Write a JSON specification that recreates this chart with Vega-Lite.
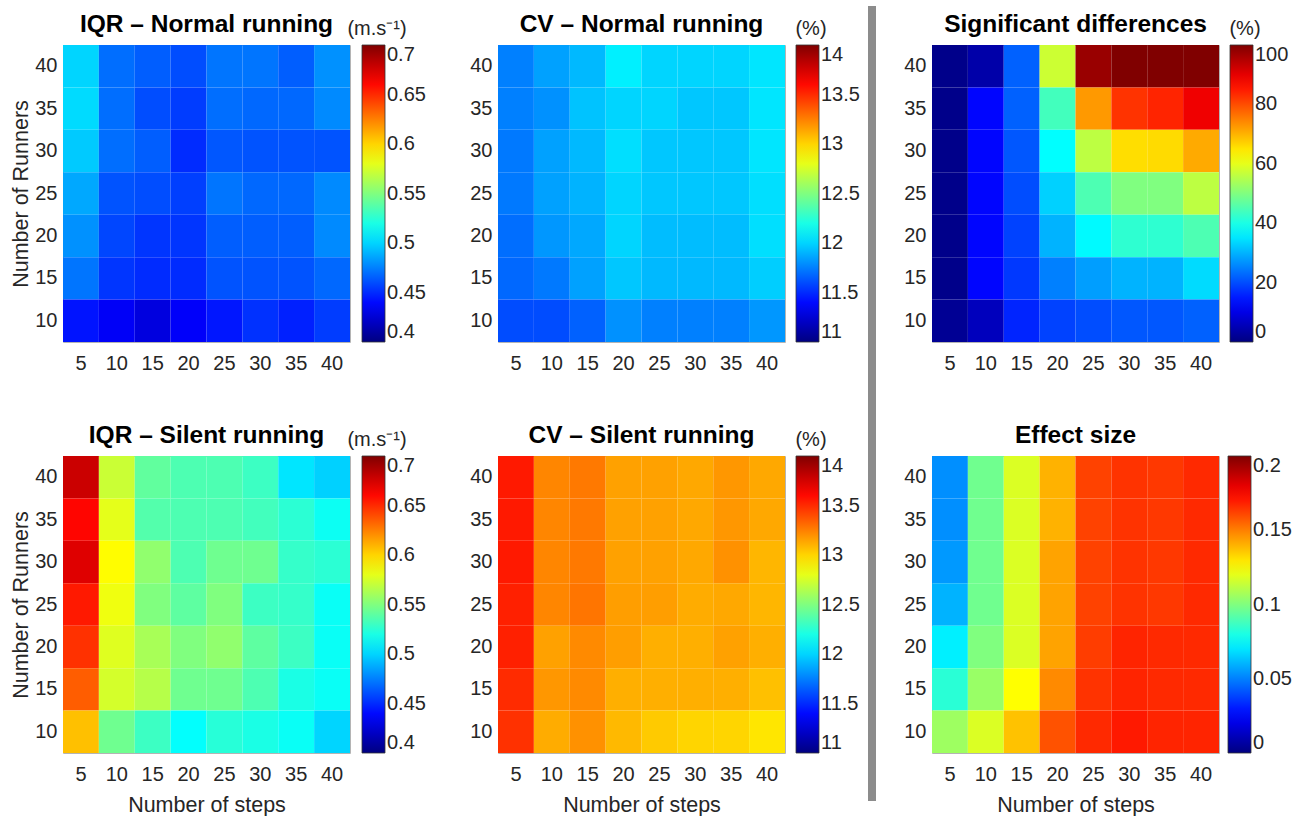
{
  "$schema": "https://vega.github.io/schema/vega-lite/v6.json",
  "padding": {"left": 10, "top": 5, "right": 5, "bottom": 0},
  "background": "white",
  "datasets": {
    "iqrN": [
      {"s":5,"r":40,"v":0.500},{"s":10,"r":40,"v":0.470},{"s":15,"r":40,"v":0.465},{"s":20,"r":40,"v":0.460},{"s":25,"r":40,"v":0.472},{"s":30,"r":40,"v":0.472},{"s":35,"r":40,"v":0.465},{"s":40,"r":40,"v":0.480},
      {"s":5,"r":35,"v":0.502},{"s":10,"r":35,"v":0.470},{"s":15,"r":35,"v":0.460},{"s":20,"r":35,"v":0.455},{"s":25,"r":35,"v":0.470},{"s":30,"r":35,"v":0.468},{"s":35,"r":35,"v":0.468},{"s":40,"r":35,"v":0.478},
      {"s":5,"r":30,"v":0.497},{"s":10,"r":30,"v":0.470},{"s":15,"r":30,"v":0.465},{"s":20,"r":30,"v":0.450},{"s":25,"r":30,"v":0.463},{"s":30,"r":30,"v":0.462},{"s":35,"r":30,"v":0.462},{"s":40,"r":30,"v":0.462},
      {"s":5,"r":25,"v":0.487},{"s":10,"r":25,"v":0.462},{"s":15,"r":25,"v":0.460},{"s":20,"r":25,"v":0.456},{"s":25,"r":25,"v":0.472},{"s":30,"r":25,"v":0.468},{"s":35,"r":25,"v":0.468},{"s":40,"r":25,"v":0.478},
      {"s":5,"r":20,"v":0.480},{"s":10,"r":20,"v":0.458},{"s":15,"r":20,"v":0.453},{"s":20,"r":20,"v":0.453},{"s":25,"r":20,"v":0.465},{"s":30,"r":20,"v":0.465},{"s":35,"r":20,"v":0.465},{"s":40,"r":20,"v":0.478},
      {"s":5,"r":15,"v":0.472},{"s":10,"r":15,"v":0.453},{"s":15,"r":15,"v":0.450},{"s":20,"r":15,"v":0.450},{"s":25,"r":15,"v":0.462},{"s":30,"r":15,"v":0.462},{"s":35,"r":15,"v":0.462},{"s":40,"r":15,"v":0.468},
      {"s":5,"r":10,"v":0.443},{"s":10,"r":10,"v":0.435},{"s":15,"r":10,"v":0.428},{"s":20,"r":10,"v":0.436},{"s":25,"r":10,"v":0.444},{"s":30,"r":10,"v":0.452},{"s":35,"r":10,"v":0.447},{"s":40,"r":10,"v":0.455}
    ],
    "cvN": [
      {"s":5,"r":40,"v":11.75},{"s":10,"r":40,"v":11.85},{"s":15,"r":40,"v":11.92},{"s":20,"r":40,"v":12.08},{"s":25,"r":40,"v":12.00},{"s":30,"r":40,"v":12.00},{"s":35,"r":40,"v":12.00},{"s":40,"r":40,"v":12.05},
      {"s":5,"r":35,"v":11.75},{"s":10,"r":35,"v":11.80},{"s":15,"r":35,"v":11.95},{"s":20,"r":35,"v":12.00},{"s":25,"r":35,"v":12.00},{"s":30,"r":35,"v":11.96},{"s":35,"r":35,"v":11.96},{"s":40,"r":35,"v":12.05},
      {"s":5,"r":30,"v":11.73},{"s":10,"r":30,"v":11.85},{"s":15,"r":30,"v":11.92},{"s":20,"r":30,"v":12.03},{"s":25,"r":30,"v":11.96},{"s":30,"r":30,"v":11.96},{"s":35,"r":30,"v":11.96},{"s":40,"r":30,"v":12.05},
      {"s":5,"r":25,"v":11.73},{"s":10,"r":25,"v":11.85},{"s":15,"r":25,"v":11.90},{"s":20,"r":25,"v":12.00},{"s":25,"r":25,"v":11.96},{"s":30,"r":25,"v":11.96},{"s":35,"r":25,"v":11.96},{"s":40,"r":25,"v":12.03},
      {"s":5,"r":20,"v":11.70},{"s":10,"r":20,"v":11.82},{"s":15,"r":20,"v":11.87},{"s":20,"r":20,"v":12.00},{"s":25,"r":20,"v":11.93},{"s":30,"r":20,"v":11.93},{"s":35,"r":20,"v":11.93},{"s":40,"r":20,"v":12.03},
      {"s":5,"r":15,"v":11.68},{"s":10,"r":15,"v":11.73},{"s":15,"r":15,"v":11.85},{"s":20,"r":15,"v":11.96},{"s":25,"r":15,"v":11.92},{"s":30,"r":15,"v":11.92},{"s":35,"r":15,"v":11.92},{"s":40,"r":15,"v":11.98},
      {"s":5,"r":10,"v":11.60},{"s":10,"r":10,"v":11.60},{"s":15,"r":10,"v":11.66},{"s":20,"r":10,"v":11.80},{"s":25,"r":10,"v":11.75},{"s":30,"r":10,"v":11.75},{"s":35,"r":10,"v":11.75},{"s":40,"r":10,"v":11.82}
    ],
    "sig": [
      {"s":5,"r":40,"v":1},{"s":10,"r":40,"v":4},{"s":15,"r":40,"v":22},{"s":20,"r":40,"v":57.5},{"s":25,"r":40,"v":97.5},{"s":30,"r":40,"v":100},{"s":35,"r":40,"v":100},{"s":40,"r":40,"v":100},
      {"s":5,"r":35,"v":1},{"s":10,"r":35,"v":13},{"s":15,"r":35,"v":22},{"s":20,"r":35,"v":44},{"s":25,"r":35,"v":72.5},{"s":30,"r":35,"v":82.5},{"s":35,"r":35,"v":84},{"s":40,"r":35,"v":89},
      {"s":5,"r":30,"v":1},{"s":10,"r":30,"v":13},{"s":15,"r":30,"v":21},{"s":20,"r":30,"v":37.5},{"s":25,"r":30,"v":56},{"s":30,"r":30,"v":65.7},{"s":35,"r":30,"v":66},{"s":40,"r":30,"v":70.8},
      {"s":5,"r":25,"v":1},{"s":10,"r":25,"v":13},{"s":15,"r":25,"v":20},{"s":20,"r":25,"v":33},{"s":25,"r":25,"v":45},{"s":30,"r":25,"v":50},{"s":35,"r":25,"v":50},{"s":40,"r":25,"v":56},
      {"s":5,"r":20,"v":1},{"s":10,"r":20,"v":13},{"s":15,"r":20,"v":19},{"s":20,"r":20,"v":30},{"s":25,"r":20,"v":37},{"s":30,"r":20,"v":42},{"s":35,"r":20,"v":42},{"s":40,"r":20,"v":45},
      {"s":5,"r":15,"v":1},{"s":10,"r":15,"v":13},{"s":15,"r":15,"v":18},{"s":20,"r":15,"v":25},{"s":25,"r":15,"v":28},{"s":30,"r":15,"v":30},{"s":35,"r":15,"v":30},{"s":40,"r":15,"v":34},
      {"s":5,"r":10,"v":2},{"s":10,"r":10,"v":6},{"s":15,"r":10,"v":16},{"s":20,"r":10,"v":19},{"s":25,"r":10,"v":20},{"s":30,"r":10,"v":21},{"s":35,"r":10,"v":21},{"s":40,"r":10,"v":22}
    ],
    "iqrS": [
      {"s":5,"r":40,"v":0.678},{"s":10,"r":40,"v":0.572},{"s":15,"r":40,"v":0.541},{"s":20,"r":40,"v":0.535},{"s":25,"r":40,"v":0.535},{"s":30,"r":40,"v":0.530},{"s":35,"r":40,"v":0.505},{"s":40,"r":40,"v":0.499},
      {"s":5,"r":35,"v":0.661},{"s":10,"r":35,"v":0.580},{"s":15,"r":35,"v":0.537},{"s":20,"r":35,"v":0.535},{"s":25,"r":35,"v":0.535},{"s":30,"r":35,"v":0.532},{"s":35,"r":35,"v":0.525},{"s":40,"r":35,"v":0.516},
      {"s":5,"r":30,"v":0.672},{"s":10,"r":30,"v":0.588},{"s":15,"r":30,"v":0.555},{"s":20,"r":30,"v":0.535},{"s":25,"r":30,"v":0.545},{"s":30,"r":30,"v":0.545},{"s":35,"r":30,"v":0.528},{"s":40,"r":30,"v":0.525},
      {"s":5,"r":25,"v":0.655},{"s":10,"r":25,"v":0.583},{"s":15,"r":25,"v":0.550},{"s":20,"r":25,"v":0.540},{"s":25,"r":25,"v":0.550},{"s":30,"r":25,"v":0.530},{"s":35,"r":25,"v":0.528},{"s":40,"r":25,"v":0.515},
      {"s":5,"r":20,"v":0.648},{"s":10,"r":20,"v":0.578},{"s":15,"r":20,"v":0.562},{"s":20,"r":20,"v":0.550},{"s":25,"r":20,"v":0.555},{"s":30,"r":20,"v":0.540},{"s":35,"r":20,"v":0.530},{"s":40,"r":20,"v":0.515},
      {"s":5,"r":15,"v":0.635},{"s":10,"r":15,"v":0.575},{"s":15,"r":15,"v":0.566},{"s":20,"r":15,"v":0.545},{"s":25,"r":15,"v":0.545},{"s":30,"r":15,"v":0.535},{"s":35,"r":15,"v":0.520},{"s":40,"r":15,"v":0.515},
      {"s":5,"r":10,"v":0.606},{"s":10,"r":10,"v":0.545},{"s":15,"r":10,"v":0.530},{"s":20,"r":10,"v":0.513},{"s":25,"r":10,"v":0.524},{"s":30,"r":10,"v":0.520},{"s":35,"r":10,"v":0.515},{"s":40,"r":10,"v":0.500}
    ],
    "cvS": [
      {"s":5,"r":40,"v":13.55},{"s":10,"r":40,"v":13.23},{"s":15,"r":40,"v":13.27},{"s":20,"r":40,"v":13.15},{"s":25,"r":40,"v":13.15},{"s":30,"r":40,"v":13.13},{"s":35,"r":40,"v":13.18},{"s":40,"r":40,"v":13.13},
      {"s":5,"r":35,"v":13.55},{"s":10,"r":35,"v":13.23},{"s":15,"r":35,"v":13.27},{"s":20,"r":35,"v":13.15},{"s":25,"r":35,"v":13.15},{"s":30,"r":35,"v":13.13},{"s":35,"r":35,"v":13.18},{"s":40,"r":35,"v":13.13},
      {"s":5,"r":30,"v":13.55},{"s":10,"r":30,"v":13.23},{"s":15,"r":30,"v":13.27},{"s":20,"r":30,"v":13.15},{"s":25,"r":30,"v":13.15},{"s":30,"r":30,"v":13.13},{"s":35,"r":30,"v":13.20},{"s":40,"r":30,"v":13.09},
      {"s":5,"r":25,"v":13.53},{"s":10,"r":25,"v":13.23},{"s":15,"r":25,"v":13.28},{"s":20,"r":25,"v":13.16},{"s":25,"r":25,"v":13.16},{"s":30,"r":25,"v":13.12},{"s":35,"r":25,"v":13.13},{"s":40,"r":25,"v":13.09},
      {"s":5,"r":20,"v":13.53},{"s":10,"r":20,"v":13.15},{"s":15,"r":20,"v":13.22},{"s":20,"r":20,"v":13.16},{"s":25,"r":20,"v":13.11},{"s":30,"r":20,"v":13.11},{"s":35,"r":20,"v":13.15},{"s":40,"r":20,"v":13.11},
      {"s":5,"r":15,"v":13.50},{"s":10,"r":15,"v":13.18},{"s":15,"r":15,"v":13.22},{"s":20,"r":15,"v":13.11},{"s":25,"r":15,"v":13.11},{"s":30,"r":15,"v":13.11},{"s":35,"r":15,"v":13.11},{"s":40,"r":15,"v":13.06},
      {"s":5,"r":10,"v":13.48},{"s":10,"r":10,"v":13.12},{"s":15,"r":10,"v":13.20},{"s":20,"r":10,"v":13.08},{"s":25,"r":10,"v":13.03},{"s":30,"r":10,"v":13.00},{"s":35,"r":10,"v":13.00},{"s":40,"r":10,"v":12.95}
    ],
    "eff": [
      {"s":5,"r":40,"v":0.053},{"s":10,"r":40,"v":0.097},{"s":15,"r":40,"v":0.118},{"s":20,"r":40,"v":0.140},{"s":25,"r":40,"v":0.162},{"s":30,"r":40,"v":0.165},{"s":35,"r":40,"v":0.164},{"s":40,"r":40,"v":0.167},
      {"s":5,"r":35,"v":0.053},{"s":10,"r":35,"v":0.097},{"s":15,"r":35,"v":0.118},{"s":20,"r":35,"v":0.140},{"s":25,"r":35,"v":0.162},{"s":30,"r":35,"v":0.165},{"s":35,"r":35,"v":0.164},{"s":40,"r":35,"v":0.167},
      {"s":5,"r":30,"v":0.055},{"s":10,"r":30,"v":0.097},{"s":15,"r":30,"v":0.118},{"s":20,"r":30,"v":0.143},{"s":25,"r":30,"v":0.162},{"s":30,"r":30,"v":0.165},{"s":35,"r":30,"v":0.164},{"s":40,"r":30,"v":0.167},
      {"s":5,"r":25,"v":0.060},{"s":10,"r":25,"v":0.097},{"s":15,"r":25,"v":0.118},{"s":20,"r":25,"v":0.143},{"s":25,"r":25,"v":0.162},{"s":30,"r":25,"v":0.165},{"s":35,"r":25,"v":0.164},{"s":40,"r":25,"v":0.167},
      {"s":5,"r":20,"v":0.072},{"s":10,"r":20,"v":0.100},{"s":15,"r":20,"v":0.118},{"s":20,"r":20,"v":0.143},{"s":25,"r":20,"v":0.163},{"s":30,"r":20,"v":0.168},{"s":35,"r":20,"v":0.167},{"s":40,"r":20,"v":0.167},
      {"s":5,"r":15,"v":0.083},{"s":10,"r":15,"v":0.105},{"s":15,"r":15,"v":0.125},{"s":20,"r":15,"v":0.148},{"s":25,"r":15,"v":0.165},{"s":30,"r":15,"v":0.168},{"s":35,"r":15,"v":0.167},{"s":40,"r":15,"v":0.167},
      {"s":5,"r":10,"v":0.106},{"s":10,"r":10,"v":0.118},{"s":15,"r":10,"v":0.137},{"s":20,"r":10,"v":0.159},{"s":25,"r":10,"v":0.167},{"s":30,"r":10,"v":0.170},{"s":35,"r":10,"v":0.168},{"s":40,"r":10,"v":0.168}
    ],
    "sep": [{"k": 1}]
  },
  "hconcat": [
    {
      "hconcat": [
        {
          "vconcat": [
            {
              "width": 287, "height": 297,
              "data": {"name": "iqrN"},
              "title": {"text": "IQR – Normal running"},
              "mark": "rect",
              "encoding": {
                "x": {"field": "s", "type": "ordinal", "axis": {"title": null}},
                "y": {"field": "r", "type": "ordinal", "sort": "descending", "axis": {"title": "Number of Runners"}},
                "color": {"field": "v", "type": "quantitative",
                  "scale": {"domain": [0.4, 0.4375, 0.5125, 0.5875, 0.6625, 0.7], "range": ["#000080", "#0000ff", "#00ffff", "#ffff00", "#ff0000", "#800000"], "interpolate": "rgb", "clamp": true},
                  "legend": {"title": "\u2800\u2800(m.s⁻¹)", "legendX": 254, "format": ".3~g", "values": [0.4, 0.45, 0.5, 0.55, 0.6, 0.65, 0.7]}}
              }
            },
            {
              "width": 287, "height": 297,
              "data": {"name": "iqrS"},
              "title": {"text": "IQR – Silent running"},
              "mark": "rect",
              "encoding": {
                "x": {"field": "s", "type": "ordinal", "axis": {"title": "Number of steps"}},
                "y": {"field": "r", "type": "ordinal", "sort": "descending", "axis": {"title": "Number of Runners"}},
                "color": {"field": "v", "type": "quantitative",
                  "scale": {"domain": [0.4, 0.4375, 0.5125, 0.5875, 0.6625, 0.7], "range": ["#000080", "#0000ff", "#00ffff", "#ffff00", "#ff0000", "#800000"], "interpolate": "rgb", "clamp": true},
                  "legend": {"title": "\u2800\u2800(m.s⁻¹)", "legendX": 254, "format": ".3~g", "values": [0.4, 0.45, 0.5, 0.55, 0.6, 0.65, 0.7]}}
              }
            }
          ],
          "spacing": 48,
          "resolve": {"scale": {"color": "independent"}, "legend": {"color": "independent"}}
        },
        {
          "vconcat": [
            {
              "width": 287, "height": 297,
              "data": {"name": "cvN"},
              "title": {"text": "CV – Normal running"},
              "mark": "rect",
              "encoding": {
                "x": {"field": "s", "type": "ordinal", "axis": {"title": null}},
                "y": {"field": "r", "type": "ordinal", "sort": "descending", "axis": {"title": null}},
                "color": {"field": "v", "type": "quantitative",
                  "scale": {"domain": [11, 11.375, 12.125, 12.875, 13.625, 14], "range": ["#000080", "#0000ff", "#00ffff", "#ffff00", "#ff0000", "#800000"], "interpolate": "rgb", "clamp": true},
                  "legend": {"title": "\u2800\u2800(%)", "legendX": 267, "format": ".3~g", "values": [11, 11.5, 12, 12.5, 13, 13.5, 14]}}
              }
            },
            {
              "width": 287, "height": 297,
              "data": {"name": "cvS"},
              "title": {"text": "CV – Silent running"},
              "mark": "rect",
              "encoding": {
                "x": {"field": "s", "type": "ordinal", "axis": {"title": "Number of steps"}},
                "y": {"field": "r", "type": "ordinal", "sort": "descending", "axis": {"title": null}},
                "color": {"field": "v", "type": "quantitative",
                  "scale": {"domain": [11, 11.375, 12.125, 12.875, 13.625, 14], "range": ["#000080", "#0000ff", "#00ffff", "#ffff00", "#ff0000", "#800000"], "interpolate": "rgb", "clamp": true},
                  "legend": {"title": "\u2800\u2800(%)", "legendX": 267, "format": ".3~g", "values": [11, 11.5, 12, 12.5, 13, 13.5, 14]}}
              }
            }
          ],
          "spacing": 48,
          "resolve": {"scale": {"color": "independent"}, "legend": {"color": "independent"}}
        }
      ],
      "spacing": 42,
      "resolve": {"scale": {"color": "independent"}, "legend": {"color": "independent"}}
    },
    {
      "hconcat": [
        {
          "width": 8, "height": 756,
          "data": {"name": "sep"},
          "view": {"stroke": null},
          "mark": {"type": "rect", "color": "#8c8c8c", "clip": false},
          "encoding": {
            "y": {"datum": 1.0516, "type": "quantitative", "scale": {"domain": [0, 1], "nice": false, "zero": false}, "axis": null},
            "y2": {"datum": 0}
          }
        },
        {
          "vconcat": [
            {
              "width": 287, "height": 297,
              "data": {"name": "sig"},
              "title": {"text": "Significant differences"},
              "mark": "rect",
              "encoding": {
                "x": {"field": "s", "type": "ordinal", "axis": {"title": null}},
                "y": {"field": "r", "type": "ordinal", "sort": "descending", "axis": {"title": null}},
                "color": {"field": "v", "type": "quantitative",
                  "scale": {"domain": [0, 12.5, 37.5, 62.5, 87.5, 100], "range": ["#000080", "#0000ff", "#00ffff", "#ffff00", "#ff0000", "#800000"], "interpolate": "rgb", "clamp": true},
                  "legend": {"title": "\u2800\u2800(%)", "legendX": 267, "format": ".3~g", "values": [0, 20, 40, 60, 80, 100]}}
              }
            },
            {
              "width": 287, "height": 297,
              "data": {"name": "eff"},
              "title": {"text": "Effect size"},
              "mark": "rect",
              "encoding": {
                "x": {"field": "s", "type": "ordinal", "axis": {"title": "Number of steps"}},
                "y": {"field": "r", "type": "ordinal", "sort": "descending", "axis": {"title": null}},
                "color": {"field": "v", "type": "quantitative",
                  "scale": {"domain": [0, 0.025, 0.075, 0.125, 0.175, 0.2], "range": ["#000080", "#0000ff", "#00ffff", "#ffff00", "#ff0000", "#800000"], "interpolate": "rgb", "clamp": true},
                  "legend": {"title": "\u00a0", "legendX": 296, "format": ".3~g", "values": [0, 0.05, 0.1, 0.15, 0.2]}}
              }
            }
          ],
          "spacing": 48,
          "resolve": {"scale": {"color": "independent"}, "legend": {"color": "independent"}}
        }
      ],
      "spacing": 27,
      "resolve": {"scale": {"color": "independent"}, "legend": {"color": "independent"}}
    }
  ],
  "spacing": 7,
  "resolve": {"scale": {"color": "independent"}, "legend": {"color": "independent"}},
  "config": {
    "font": "Liberation Sans",
    "view": {"stroke": "#b4b4b4", "strokeWidth": 1},
    "axis": {"labelFontSize": 20, "labelColor": "#262626", "labelFont": "Liberation Sans", "ticks": false, "domain": false, "grid": false, "titleFontSize": 21.5, "titleFontWeight": "normal", "titleColor": "#262626", "titleFont": "Liberation Sans"},
    "axisX": {"labelAngle": 0, "labelPadding": 11, "titlePadding": 10},
    "axisY": {"labelPadding": 6, "titlePadding": 2},
    "title": {"fontSize": 24.5, "fontWeight": "bold", "color": "#000000", "font": "Liberation Sans", "anchor": "middle", "frame": "group", "baseline": "alphabetic", "offset": -18},
    "legend": {"orient": "none", "legendY": -26, "direction": "vertical", "padding": 0, "gradientLength": 297, "gradientThickness": 23, "gradientStrokeColor": "#333333", "gradientStrokeWidth": 0.8, "labelFontSize": 20, "labelColor": "#262626", "labelFont": "Liberation Sans", "labelOffset": 6, "labelBaseline": "middle", "labelOverlap": false, "titleFontSize": 20, "titleFontWeight": "normal", "titleColor": "#262626", "titleFont": "Liberation Sans", "titleAnchor": "start", "titleAlign": "center", "titlePadding": 6, "titleLimit": 300}
  }
}
